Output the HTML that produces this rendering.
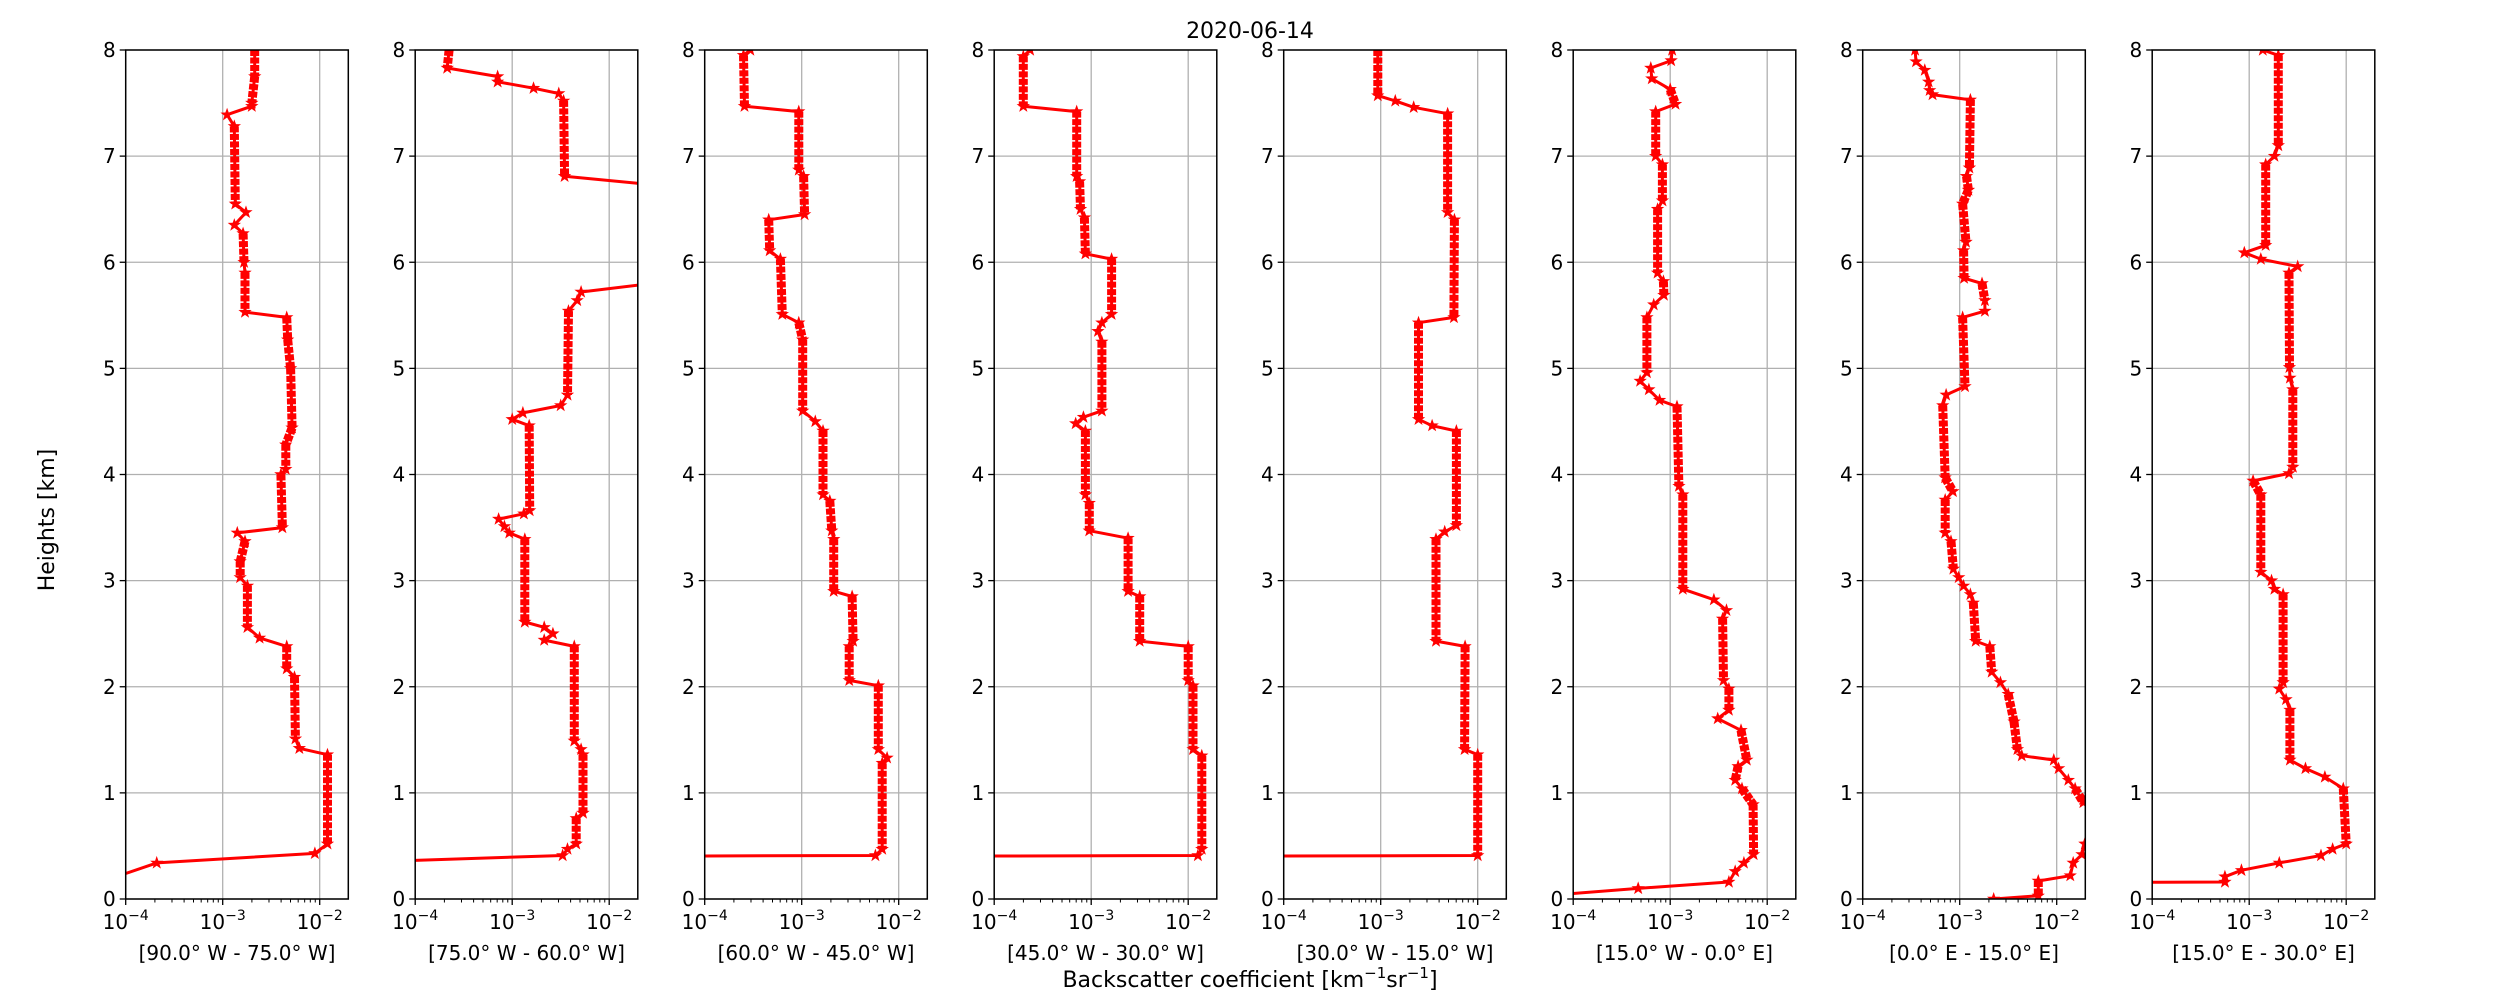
<!DOCTYPE html>
<html><head><meta charset="utf-8"><style>
html,body{margin:0;padding:0;background:#fff}
svg{display:block;font-family:"DejaVu Sans","Liberation Sans",sans-serif}
</style></head><body>
<svg id="fig" width="2500" height="1000" viewBox="0 0 2500 1000" xmlns="http://www.w3.org/2000/svg">
<rect width="2500" height="1000" fill="#fff"/>
<text x="1250" y="38" font-size="22" text-anchor="middle">2020-06-14</text>
<text x="54" y="520" font-size="22" text-anchor="middle" transform="rotate(-90 54 520)">Heights [km]</text>
<text x="1250" y="987" font-size="22" text-anchor="middle">Backscatter coefficient [km<tspan dy="-9" font-size="15">−1</tspan><tspan dy="9">sr</tspan><tspan dy="-9" font-size="15">−1</tspan><tspan dy="9">]</tspan></text>
<g id="panels"></g>
</svg>
<script>
const panelLabels = ["[90.0° W - 75.0° W]","[75.0° W - 60.0° W]","[60.0° W - 45.0° W]","[45.0° W - 30.0° W]","[30.0° W - 15.0° W]","[15.0° W - 0.0° E]","[0.0° E - 15.0° E]","[15.0° E - 30.0° E]"];
const yTicks = [0,1,2,3,4,5,6,7,8];
const xTickExps = [-4,-3,-2];
const xTickLabels = ["−4","−3","−2"];

const h1 = [8,7.75,7.5,7.47,7.39,7.28,6.55,6.47,6.35,6.27,6.0,5.9,5.53,5.48,5.27,5.0,4.44,4.28,4.05,4.0,3.5,3.45,3.37,3.18,3.03,2.95,2.56,2.46,2.38,2.17,2.09,1.51,1.42,1.36,0.52,0.43,0.34,0.2];
const v1 = [-2.67,-2.67,-2.70,-2.70,-2.955,-2.88,-2.87,-2.76,-2.88,-2.79,-2.78,-2.77,-2.77,-2.34,-2.33,-2.30,-2.285,-2.35,-2.35,-2.40,-2.385,-2.85,-2.77,-2.82,-2.82,-2.745,-2.745,-2.62,-2.34,-2.34,-2.26,-2.25,-2.21,-1.92,-1.92,-2.05,-3.68,-4.13];
const h2 = [8,7.83,7.75,7.70,7.64,7.59,7.52,6.81,6.70,5.84,5.72,5.64,5.54,4.75,4.65,4.58,4.52,4.46,3.66,3.63,3.58,3.51,3.45,3.39,2.61,2.56,2.50,2.44,2.38,1.49,1.41,1.36,0.81,0.76,0.52,0.47,0.41,0.35];
const v2 = [-3.65,-3.67,-3.15,-3.15,-2.78,-2.52,-2.47,-2.46,-1.2,-1.2,-2.29,-2.33,-2.42,-2.43,-2.50,-2.89,-3.0,-2.825,-2.82,-2.88,-3.14,-3.08,-3.03,-2.87,-2.87,-2.67,-2.58,-2.67,-2.36,-2.36,-2.29,-2.27,-2.27,-2.34,-2.34,-2.43,-2.48,-4.5];
const h3 = [8,7.95,7.47,7.42,6.87,6.81,6.45,6.40,6.11,6.03,5.51,5.43,5.27,4.60,4.50,4.41,3.81,3.75,3.47,3.39,2.90,2.85,2.43,2.38,2.06,2.01,1.41,1.33,1.28,0.47,0.41,0.40];
const v3 = [-3.53,-3.60,-3.59,-3.03,-3.03,-2.98,-2.97,-3.34,-3.33,-3.22,-3.20,-3.03,-2.99,-2.99,-2.86,-2.78,-2.78,-2.71,-2.69,-2.67,-2.67,-2.48,-2.47,-2.51,-2.51,-2.21,-2.21,-2.12,-2.17,-2.17,-2.24,-6];
const h4 = [8,7.94,7.47,7.42,6.81,6.76,6.50,6.42,6.08,6.03,5.51,5.43,5.35,5.25,4.60,4.54,4.48,4.41,3.81,3.73,3.47,3.40,2.90,2.85,2.43,2.38,2.06,2.01,1.41,1.35,0.47,0.41,0.40];
const v4 = [-3.63,-3.70,-3.70,-3.15,-3.15,-3.12,-3.11,-3.07,-3.06,-2.79,-2.79,-2.89,-2.93,-2.89,-2.89,-3.08,-3.16,-3.06,-3.06,-3.02,-3.02,-2.62,-2.62,-2.50,-2.50,-2.0,-2.0,-1.95,-1.95,-1.86,-1.86,-1.90,-6];
const h5 = [8,7.57,7.52,7.46,7.40,6.47,6.40,5.48,5.43,4.52,4.46,4.41,3.52,3.46,3.39,2.43,2.38,1.41,1.36,0.41,0.40];
const v5 = [-3.03,-3.03,-2.85,-2.66,-2.31,-2.31,-2.24,-2.245,-2.61,-2.61,-2.47,-2.22,-2.22,-2.34,-2.43,-2.43,-2.13,-2.135,-2.0,-2.0,-6];
const h6 = [8,7.90,7.83,7.73,7.63,7.49,7.42,7.0,6.92,6.58,6.50,5.90,5.82,5.69,5.60,5.48,4.96,4.88,4.80,4.70,4.64,3.89,3.81,2.92,2.82,2.72,2.64,2.06,1.98,1.78,1.70,1.59,1.31,1.25,1.12,1.04,0.89,0.42,0.34,0.26,0.16,0.10,0.03];
const v6 = [-2.98,-2.99,-3.20,-3.19,-3.0,-2.945,-3.15,-3.15,-3.08,-3.08,-3.13,-3.13,-3.07,-3.065,-3.17,-3.24,-3.24,-3.31,-3.22,-3.11,-2.93,-2.91,-2.87,-2.87,-2.55,-2.42,-2.46,-2.45,-2.395,-2.395,-2.51,-2.27,-2.21,-2.30,-2.33,-2.26,-2.145,-2.14,-2.24,-2.33,-2.395,-3.33,-4.3];
const h7 = [8,7.89,7.81,7.70,7.62,7.58,7.53,6.89,6.81,6.68,6.55,6.19,6.11,5.85,5.80,5.64,5.54,5.48,4.83,4.75,4.65,3.97,3.84,3.76,3.45,3.37,3.11,3.03,2.95,2.87,2.79,2.43,2.38,2.14,2.04,1.93,1.67,1.41,1.35,1.31,1.23,1.12,1.04,0.91,0.85,0.56,0.52,0.42,0.34,0.22,0.17,0.03,0.0];
const v7 = [-3.46,-3.45,-3.36,-3.32,-3.31,-3.28,-2.89,-2.90,-2.93,-2.91,-2.97,-2.935,-2.96,-2.955,-2.77,-2.74,-2.74,-2.97,-2.945,-3.14,-3.175,-3.15,-3.07,-3.15,-3.15,-3.09,-3.065,-3.01,-2.96,-2.89,-2.86,-2.835,-2.69,-2.67,-2.58,-2.50,-2.44,-2.405,-2.36,-2.03,-1.98,-1.88,-1.81,-1.725,-1.55,-1.55,-1.71,-1.74,-1.83,-1.86,-2.19,-2.19,-2.65];
const h8 = [8,7.95,7.10,7.0,6.92,6.16,6.09,6.03,5.96,5.90,5.01,4.91,4.80,4.07,4.01,3.94,3.81,3.08,3.00,2.92,2.87,2.04,1.98,1.88,1.78,1.31,1.23,1.15,1.04,0.52,0.47,0.41,0.34,0.27,0.21,0.16,0.15];
const v8 = [-2.86,-2.70,-2.70,-2.74,-2.83,-2.83,-3.05,-2.88,-2.50,-2.59,-2.585,-2.58,-2.55,-2.55,-2.59,-2.96,-2.88,-2.88,-2.77,-2.74,-2.65,-2.65,-2.69,-2.62,-2.58,-2.58,-2.42,-2.22,-2.03,-2.0,-2.14,-2.26,-2.69,-3.08,-3.25,-3.25,-6];

const heights = [h1,h2,h3,h4,h5,h6,h7,h8];
const logValues = [v1,v2,v3,v4,v5,v6,v7,v8];

const NS = "http://www.w3.org/2000/svg";
const P0 = 125.7, PSTEP = 289.5, PW = 222.6, TOP = 50, BOT = 899;
const XMIN = -4, DEC = 97, HMAX = 8;
function mk(tag, attrs, parent){const e=document.createElementNS(NS,tag);for(const k in attrs)e.setAttribute(k,attrs[k]);parent.appendChild(e);return e;}
function xScale(i, lg){return P0 + i*PSTEP + (lg - XMIN)*DEC;}
function yScale(h){return BOT - h*(BOT-TOP)/HMAX;}
function star(cx, cy, r){
  let pts=[];
  for(let k=0;k<10;k++){const a=-Math.PI/2+k*Math.PI/5;const rr=k%2?r*0.4:r;pts.push((cx+rr*Math.cos(a)).toFixed(1)+","+(cy+rr*Math.sin(a)).toFixed(1));}
  return pts.join(" ");
}
const root = document.getElementById("panels");
const defs = mk("defs",{},root);
for(let i=0;i<8;i++){
  const L = P0 + i*PSTEP;
  const cp = mk("clipPath",{id:"clip"+i},defs);
  mk("rect",{x:L,y:TOP,width:PW,height:BOT-TOP},cp);
  const g = mk("g",{},root);
  
  
  yTicks.forEach(t=>{
    const y=yScale(t);
    const gl=mk("line",{x1:L,x2:L+PW,y1:y,y2:y,stroke:"#b0b0b0","stroke-width":1.3},g);
    
    
    const tk=mk("line",{x1:L-6,x2:L,y1:y,y2:y,stroke:"#000","stroke-width":1.3},g);
    
    
    const tl=mk("text",{x:L-10,y:y+7,"font-size":20,"text-anchor":"end"},g);
    tl.textContent=String(t);
    
    
  });
  xTickExps.forEach((e,j)=>{
    const x=xScale(i,e);
    if(j>0){
      const gl=mk("line",{x1:x,x2:x,y1:TOP,y2:BOT,stroke:"#b0b0b0","stroke-width":1.3},g);
      
      
    }
    const tk=mk("line",{x1:x,x2:x,y1:BOT,y2:BOT+6,stroke:"#000","stroke-width":1.3},g);
    
    
    const tl=mk("text",{x:x,y:BOT+30,"font-size":20,"text-anchor":"middle"},g);
    
    
    const t1=mk("tspan",{},tl);t1.textContent="10";
    const t2=mk("tspan",{dy:-9,"font-size":14},tl);t2.textContent=xTickLabels[j];
  });
  for(let e=-4;e<=-2;e++){
    for(let m=2;m<=9;m++){
      const lg=e+Math.log10(m);
      const x=xScale(i,lg);
      if(x>L+PW)continue;
      const mt=mk("line",{x1:x,x2:x,y1:BOT,y2:BOT+3.5,stroke:"#000","stroke-width":1},g);
      
      
    }
  }
  const hs=heights[i], vs=logValues[i];
  const sg=mk("g",{"clip-path":"url(#clip"+i+")"},g);
  
  
  let d="";
  hs.forEach((h,k)=>{d+=(k?"L":"M")+xScale(i,vs[k]).toFixed(1)+","+yScale(h).toFixed(1);});
  let bd="";
  for(let k=0;k<hs.length-1;k++){
    if(hs[k]-hs[k+1]>=0.125 && vs[k]>=-4 && vs[k+1]>=-4){
      bd+="M"+xScale(i,vs[k]).toFixed(1)+","+yScale(hs[k]).toFixed(1)+"L"+xScale(i,vs[k+1]).toFixed(1)+","+yScale(hs[k+1]).toFixed(1);
    }
  }
  const band=mk("path",{d:bd,fill:"none",stroke:"#ff0000","stroke-width":9,"stroke-dasharray":"6 1.5"},sg);
  
  
  const line=mk("path",{d:d,fill:"none",stroke:"#ff0000","stroke-width":3,"stroke-linejoin":"round"},sg);
  
  
  hs.forEach((h,k)=>{
    const x=xScale(i,vs[k]);
    if(x<L-2||x>L+PW+2)return;
    const s=mk("polygon",{points:star(x,yScale(h),7),fill:"#ff0000"},sg);
    
    
  });
  const fr=mk("rect",{x:L,y:TOP,width:PW,height:BOT-TOP,fill:"none",stroke:"#000","stroke-width":1.5},g);
  
  
  const pl=mk("text",{x:L+PW/2,y:960,"font-size":20,"text-anchor":"middle"},g);
  pl.textContent=panelLabels[i];
  
  
}
</script>
</body></html>
